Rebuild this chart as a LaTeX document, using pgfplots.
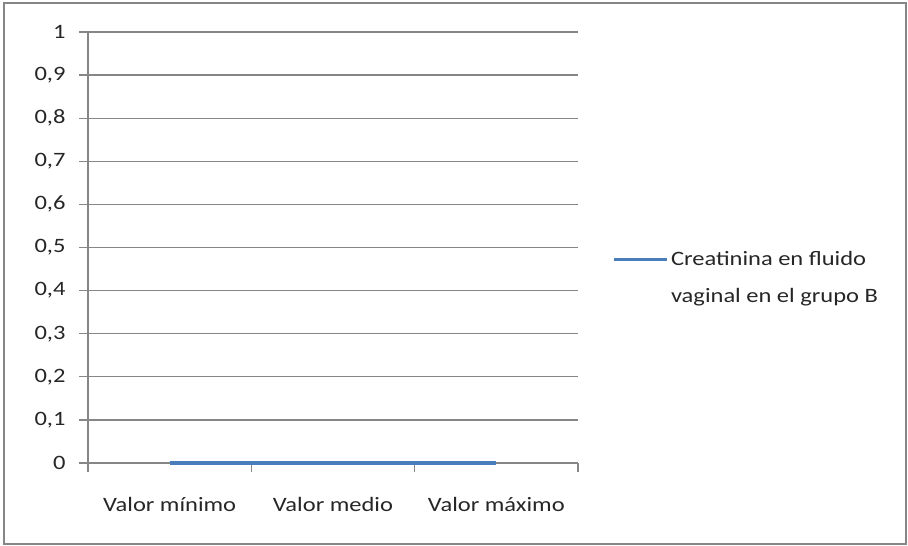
\documentclass[border=0pt]{standalone}
\usepackage{fontspec}
\setmainfont{Carlito}[FakeStretch=1.2]
\usepackage{pgfplots}
\pgfplotsset{compat=1.18}
\definecolor{gridgray}{HTML}{868686}
\definecolor{serblue}{HTML}{4A7EBB}
\begin{document}
\begin{tikzpicture}[x=1bp,y=1bp]
\path[use as bounding box] (0,0) rectangle (908,-546);
\draw[gridgray,line width=1.5bp] (4,-3) rectangle (906,-544);
\begin{axis}[
  at={(88bp,-463bp)}, anchor=origin,
  scale only axis, width=490bp, height=431bp,
  xmin=0, xmax=3, ymin=0, ymax=1,
  axis lines*=left,
  axis line style={gridgray, line width=1.2bp},
  xtick={0,1,2,3}, xticklabels={},
  extra x ticks={0.5,1.5,2.5},
  extra x tick labels={Valor mínimo,Valor medio,Valor máximo},
  extra x tick style={major tick length=0pt, xticklabel style={yshift=-31bp}},
  ytick={0,0.1,...,1.01},
  ymajorgrids,
  grid style={gridgray, line width=1.2bp},
  tick style={gridgray, line width=1.2bp},
  tick align=outside,
  major tick length=9bp,
  tick label style={font=\fontsize{20.5}{24}\selectfont, text=black!85},
  yticklabel style={xshift=-10bp},
  /pgf/number format/assume math mode=true,
  /pgf/number format/use comma,
  yticklabel={\pgfmathprintnumber[fixed,precision=1,use comma]{\tick}},
  legend style={at={(1.07,0.43)}, anchor=west, draw=none, fill=none,
    font=\fontsize{20.5}{37}\selectfont, text=black!85,
    cells={align=left, anchor=west}, inner xsep=0pt},
  legend image code/.code={\draw[#1] (0bp,18bp) -- (53bp,18bp);},
  clip=false,
]
\addplot[serblue, line width=3.5bp] coordinates {(0.5,0) (1.5,0) (2.5,0)};
\addlegendentry{Creatinina en fluido\\vaginal en el grupo B}
\end{axis}
\end{tikzpicture}
\end{document}
